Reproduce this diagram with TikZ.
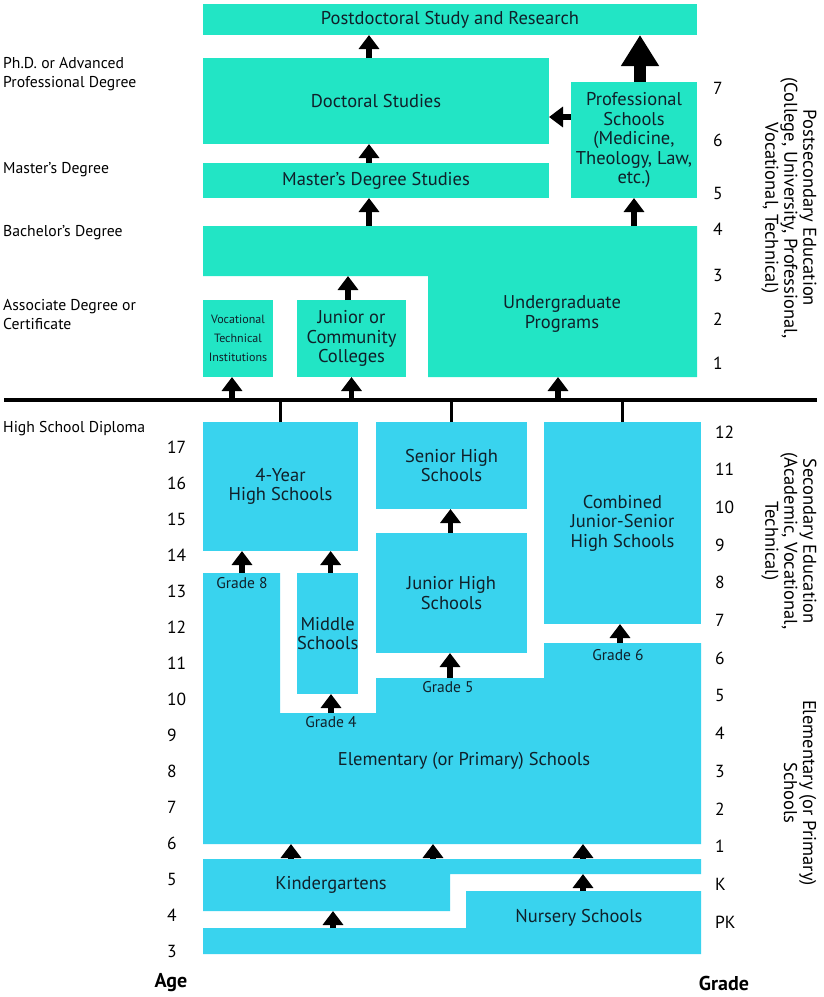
\documentclass[tikz,border=0pt]{standalone}
\usepackage{fontspec}
\setmainfont{PT Sans}
\usetikzlibrary{arrows.meta}

\definecolor{postc}{HTML}{22E5C5}
\definecolor{secc}{HTML}{39D3EE}
\definecolor{ink}{HTML}{10202A}

\tikzset{
  box/.style={inner sep=0pt, outer sep=0pt, anchor=north west, align=center, text=ink, font=\fontsize{18.5}{19.5}\selectfont},
  pbox/.style={box, fill=postc},
  sbox/.style={box, fill=secc},
  txt/.style={inner sep=0pt, align=center, text=ink, font=\fontsize{18.5}{19.5}\selectfont},
  arr/.style={line width=5.5pt, -{Triangle[width=20pt,length=14pt]}},
  bigarr/.style={line width=12pt, -{Triangle[width=36pt,length=31pt]}},
  stem/.style={line width=3pt},
  deg/.style={anchor=west, align=left, inner sep=0pt, font=\fontsize{15.7}{19}\selectfont},
  num/.style={anchor=west, inner sep=0pt, font=\fontsize{17.5}{19}\selectfont},
  grd/.style={inner sep=0pt, text=ink, font=\fontsize{15.5}{16}\selectfont},
  side/.style={rotate=-90, align=center, inner sep=0pt, font=\fontsize{18.5}{19}\selectfont},
}

\begin{document}
\begin{tikzpicture}[x=1pt, y=-1pt]
  \useasboundingbox (0,0) rectangle (823,997);

  % postsecondary boxes
  \node[pbox, minimum width=494pt, minimum height=31pt] (post) at (203,4) {Postdoctoral Study and Research};
  \node[pbox, minimum width=346pt, minimum height=86pt] (doc) at (203,58) {Doctoral Studies};
  \node[pbox, minimum width=346pt, minimum height=35pt] (msd) at (203,163) {Master's Degree Studies};
  \node[pbox, minimum width=126pt, minimum height=116pt] (prof) at (571,82) {Professional\\Schools\\(Medicine,\\Theology, Law,\\etc.)};
  \fill[postc] (203,226) -- (697,226) -- (697,377) -- (428,377) -- (428,276) -- (203,276) -- cycle;
  \node[txt] (ugr) at (562,314) {Undergraduate\\Programs};
  \coordinate (ugr-n) at (369,226);
  \coordinate (ugr-ne) at (634,226);
  \coordinate (ugr-s) at (558,377);
  \coordinate (ugr-w) at (348,276);
  \node[pbox, minimum width=70pt, minimum height=77pt, font=\fontsize{12}{19}\selectfont] (voc) at (203,300) {Vocational\\Technical\\Institutions};
  \node[pbox, minimum width=109pt, minimum height=77pt] (jcc) at (297,300) {Junior or\\Community\\Colleges};

  % diploma line
  \coordinate (hl-w) at (4,400);
  \coordinate (hl-e) at (817,400);
  \draw[line width=4.5pt] (hl-w) -- (hl-e);

  % secondary boxes
  \node[sbox, minimum width=155pt, minimum height=129pt] (hs4) at (203,422) {4-Year\\High Schools};
  \node[sbox, minimum width=151pt, minimum height=87pt] (shs) at (376,422) {Senior High\\Schools};
  \node[sbox, minimum width=151pt, minimum height=120pt] (jhs) at (376,533) {Junior High\\Schools};
  \node[sbox, minimum width=157pt, minimum height=202pt] (cjs) at (544,422) {Combined\\Junior-Senior\\High Schools};
  \node[sbox, minimum width=61pt, minimum height=121pt] (mid) at (297,573) {Middle\\Schools};

  % elementary, kindergarten, nursery
  \fill[secc] (203,573) -- (280,573) -- (280,713) -- (376,713) -- (376,678) -- (544,678) -- (544,643) -- (701,643) -- (701,844) -- (203,844) -- cycle;
  \node[txt] (elem) at (464,761) {Elementary (or Primary) Schools};
  \coordinate (elem-s) at (450,844);
  \fill[secc] (203,859) -- (701,859) -- (701,874) -- (450,874) -- (450,911) -- (203,911) -- cycle;
  \node[txt] (kin) at (331,885) {Kindergartens};
  \fill[secc] (203,928) -- (466,928) -- (466,891) -- (701,891) -- (701,954) -- (203,954) -- cycle;
  \node[txt] (nur) at (579,918) {Nursery Schools};

  % stems below the line
  \draw[stem] (hs4.north) -- (hs4.north |- hl-w);
  \draw[stem] (shs.north) -- (shs.north |- hl-w);
  \draw[stem] (cjs.north) -- (cjs.north |- hl-w);

  % arrows, postsecondary
  \draw[arr] ([xshift=-6pt]voc.south |- hl-w) -- ([xshift=-6pt]voc.south);
  \draw[arr] (jcc.south |- hl-w) -- (jcc.south);
  \draw[arr] (ugr-s |- hl-w) -- (ugr-s);
  \draw[arr] (ugr-w |- jcc.north) -- (ugr-w);
  \draw[arr] (ugr-n) -- (ugr-n |- msd.south);
  \draw[arr] (ugr-ne) -- (ugr-ne |- prof.south);
  \draw[arr] ([xshift=-7pt]msd.north) -- ([xshift=-7pt]doc.south);
  \draw[arr] ([xshift=-7pt]doc.north) -- ([xshift=-7pt]doc.north |- post.south);
  \draw[bigarr] ([xshift=6pt]prof.north) -- ([xshift=6pt]prof.north |- post.south);
  \draw[arr] ([yshift=23pt]prof.west) -- ([yshift=23pt]prof.west -| doc.east);

  % arrows, secondary and elementary
  \coordinate (g8) at (242,573);
  \coordinate (g4) at (331,713);
  \coordinate (g5) at (450,678);
  \coordinate (g6) at (620,643);
  \draw[arr] (g8) -- (g8 |- hs4.south);
  \draw[arr] ([xshift=3pt]mid.north) -- ([xshift=3pt]mid.north |- hs4.south);
  \draw[arr] (g4) -- (g4 |- mid.south);
  \draw[arr] ([xshift=-1pt]jhs.north) -- ([xshift=-1pt]shs.south);
  \draw[arr] (g5) -- (g5 |- jhs.south);
  \draw[arr] (g6) -- (g6 |- cjs.south);
  \foreach \x/\n in {291/k1, 433/k2, 583/k3} {
    \coordinate (\n) at (\x,859);
    \draw[arr] (\n) -- (\n |- elem-s);
  }
  \coordinate (n1) at (583,891);
  \coordinate (n2) at (333,928);
  \draw[arr] (n1) -- (583,874);
  \draw[arr] (n2) -- (333,911);

  % grade transfer labels
  \node[grd] (g8l) at (242,583) {Grade 8};
  \node[grd] (g4l) at (331,722) {Grade 4};
  \node[grd] (g5l) at (448,687) {Grade 5};
  \node[grd] (g6l) at (618,655) {Grade 6};

  % degrees on the left
  \node[deg] (phd) at (3,74.5) {Ph.D. or Advanced\\Professional Degree};
  \node[deg] (mas) at (3,170) {Master's Degree};
  \node[deg] (bac) at (3,233) {Bachelor's Degree};
  \node[deg] (aso) at (3,314.5) {Associate Degree or\\Certificate};
  \node[deg] (hsd) at (3,429) {High School Diploma};

  % ages
  \foreach \a [count=\i from 0] in {17,16,...,3}
    \node[num] (age\a) at (167,447+36*\i) {\a};
  \node[font=\fontsize{20}{22}\bfseries] (agel) at (171,983) {Age};

  % grades
  \foreach \g/\y in {7/88, 6/140, 5/193, 4/229, 3/275, 2/319, 1/363}
    \node[num] (pg\g) at (713,\y) {\g};
  \foreach \g [count=\i from 0] in {12,11,10,9,8,7,6,5,4,3,2,1,K,PK}
    \node[num] (sg\g) at (715,432+37.7*\i) {\g};
  \node[font=\fontsize{20}{22}\bfseries] (gradel) at (724,983) {Grade};

  % levels on the right
  \node[side] (pse) at (789,208) {Postsecondary Education\\(College, University, Professional,\\Vocational, Technical)};
  \node[side] (sec) at (789,541) {Secondary Education\\(Academic, Vocational,\\Technical)};
  \node[side] (ele) at (800,793) {Elementary (or Primary)\\Schools};
\end{tikzpicture}
\end{document}
